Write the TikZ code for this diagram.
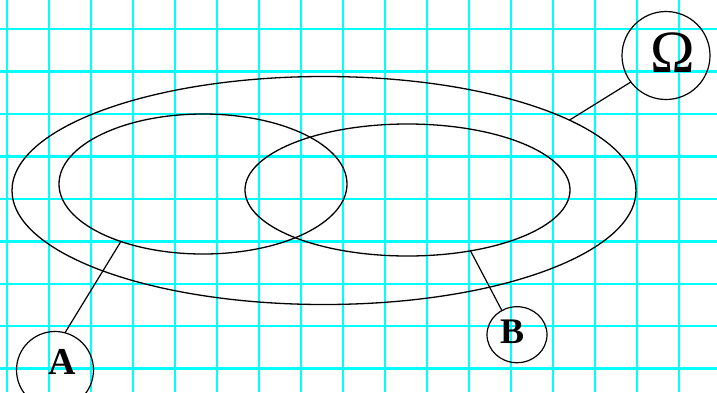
\documentclass[tikz,border=0pt]{standalone}
\usepackage{fontspec}
\setmainfont{Liberation Serif}
\usetikzlibrary{shapes.geometric}
\begin{document}
\begin{tikzpicture}[x=1pt,y=-1pt,
  gridline/.style={color={rgb,255:red,0;green,255;blue,255}, line width=2.4pt},
  setellipse/.style={draw, ellipse, inner sep=0pt, outer sep=0pt, line width=1.3pt},
  tagcircle/.style={draw, ellipse, inner sep=0pt, outer sep=0pt, line width=1.2pt},
  conn/.style={draw, line width=1.2pt},
  lbl/.style={inner sep=0pt, outer sep=0pt}]
\fill[white] (0,0) rectangle (717,392);
\useasboundingbox (0,0) rectangle (717,392);
% grid
\foreach \i in {0,...,16} \draw[gridline] ({7.2+41.98*\i},0) -- ({7.2+41.98*\i},392);
\foreach \j in {0,...,8} \draw[gridline] (0,{29+42.46*\j}) -- (717,{29+42.46*\j});
% sets
\node[setellipse, minimum width=624pt, minimum height=228pt] (omega) at (324,190.5) {};
\node[setellipse, minimum width=288pt, minimum height=140pt] (setA) at (203,184) {};
\node[setellipse, minimum width=325pt, minimum height=132pt] (setB) at (407.5,190) {};
% tag circles
\node[tagcircle, minimum width=88pt, minimum height=88pt] (cO) at (666,55.5) {};
\node[tagcircle, minimum width=77pt, minimum height=77pt] (cA) at (55,370) {};
\node[tagcircle, minimum width=60pt, minimum height=56pt] (cB) at (517,334.7) {};
% labels
\node[lbl, font=\fontsize{60}{60}\selectfont] (tO) at (673,53) {Ω};
\node[lbl, font=\bfseries\fontsize{38}{38}\selectfont] (tA) at (62.7,361.5) {A};
\node[lbl, font=\bfseries\fontsize{36}{36}\selectfont] (tB) at (512,332) {B};
% connectors
\draw[conn] (setA.215) -- (cA.75);
\draw[conn] (setB.-44) -- (cB.122);
\draw[conn] (omega.16) -- (cO.217);
\end{tikzpicture}
\end{document}
